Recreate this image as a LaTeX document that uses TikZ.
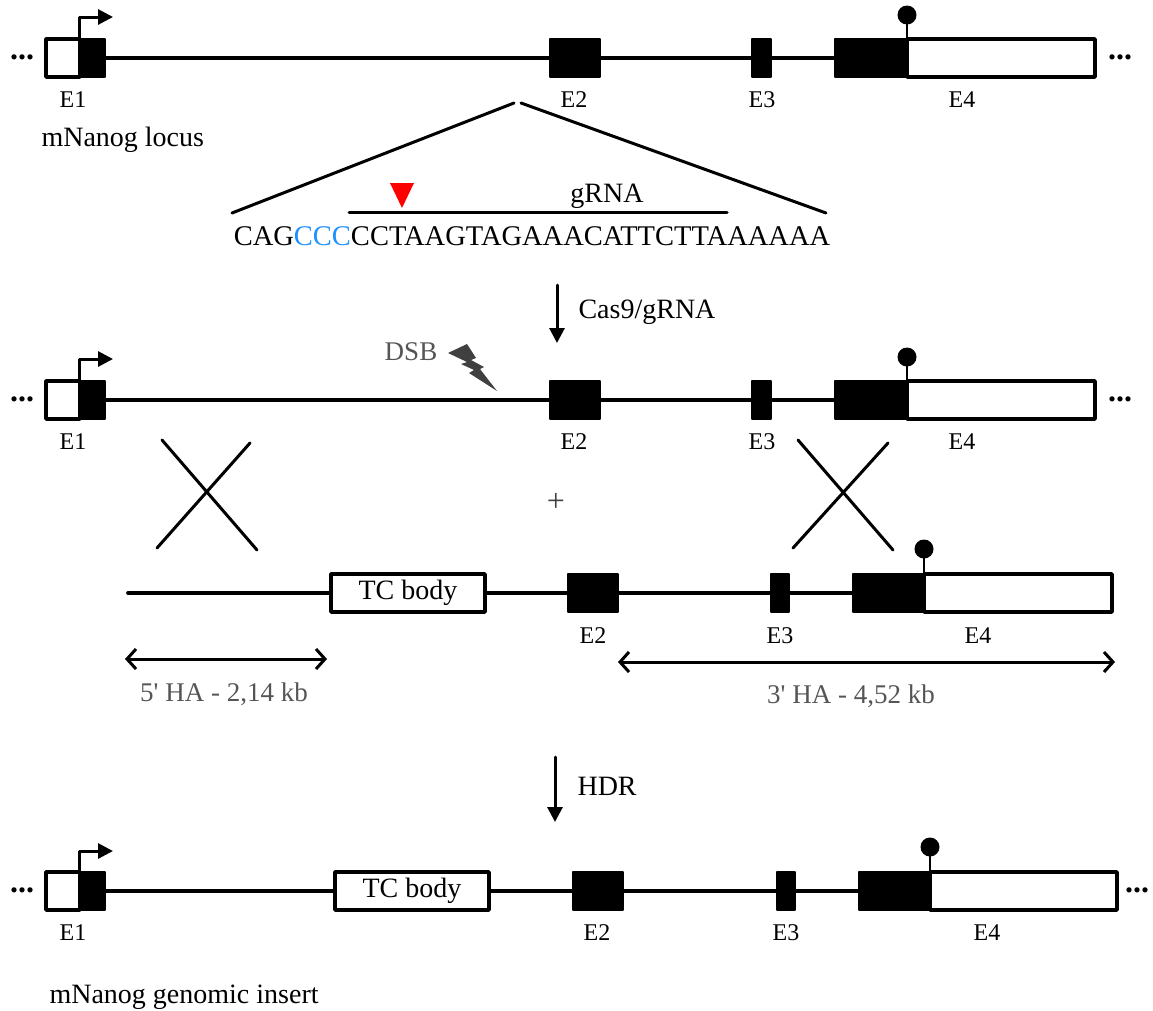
\documentclass[tikz,border=0pt]{standalone}
\usepackage{fontspec}
\setmainfont{Liberation Serif}
\usetikzlibrary{arrows.meta}
\definecolor{seqblue}{RGB}{30,144,255}
\definecolor{halabel}{RGB}{85,85,85}
\definecolor{boltgray}{RGB}{64,64,64}

\begin{document}
\begin{tikzpicture}[line cap=round,line join=round,x=1pt,y=-1pt,
    >={Triangle[length=15pt,width=15pt]},
    dna/.style={line width=3.8pt},
    bar/.style={line width=3pt},
    exon/.style={fill=black,draw=black,line width=2pt},
    utr/.style={fill=white,draw=black,line width=3.6pt},
    tcbox/.style={draw=black,fill=white,line width=3.6pt,minimum width=154pt,minimum height=38pt,inner sep=0pt,font=\fontsize{28}{30}\selectfont},
    exlabel/.style={font=\fontsize{24}{26}\selectfont},
    txt/.style={font=\fontsize{28}{30}\selectfont},
    dots/.style={font=\fontsize{32}{32}\selectfont\bfseries},
    graytxt/.style={font=\fontsize{27}{29}\selectfont,text=halabel},
    ha/.style={line width=3pt,{Straight Barb[length=9pt,width=20pt]}-{Straight Barb[length=9pt,width=20pt]}}]
  \useasboundingbox (0,0) rectangle (1153,1010);

  % wild-type locus, before and after the cut
  \foreach \y/\r in {58/a,400/b}{
    \draw[dna] (105,\y) -- (835,\y);
    \draw[utr] (46,\y-19) rectangle (80,\y+19);
    \draw[exon] (80,\y-19) rectangle (105,\y+19);
    \draw[exon] (550,\y-19) rectangle (600,\y+19);
    \draw[exon] (752,\y-19) rectangle (771,\y+19);
    \draw[utr] (907,\y-19) rectangle (1095,\y+19);
    \draw[exon] (835,\y-19) rectangle (907,\y+19);
    \draw[line width=2.6pt] (907,\y-19) -- (907,\y-43);
    \fill (907,\y-43) circle (9.5pt);
    \draw[bar,->] (79,\y-19) |- (113,\y-41);
    \node[dots] (dl\r) at (22,\y-1) {...};
    \node[dots] (dr\r) at (1120,\y-1) {...};
    \node[exlabel] (e1\r) at (73,\y+42) {E1};
    \node[exlabel] (e2\r) at (574,\y+42) {E2};
    \node[exlabel] (e3\r) at (762,\y+42) {E3};
    \node[exlabel] (e4\r) at (962,\y+42) {E4};
  }
  \node[txt,anchor=west] (locus) at (38,140) {mNanog locus};

  % target sequence
  \draw[bar] (514,103) -- (232,213);
  \draw[bar] (521,103) -- (826,213);
  \node[txt,font=\fontsize{28.5}{30}\selectfont] (seq) at (532,236) {CAG\textcolor{seqblue}{CCC}CCTAAGTAGAAACATTCTTAAAAAA};
  \draw[bar] (349,212) -- (727,212);
  \node[txt] (grna) at (607,196) {gRNA};
  \fill[red] (390,183) -- (414,183) -- (402,208) -- cycle;

  \coordinate (cas9a) at (557,285);
  \coordinate (cas9b) at (557,343);
  \draw[bar,->] (cas9a) -- (cas9b);
  \node[txt,anchor=west] (cas9) at (575,312) {Cas9/gRNA};

  \node[graytxt] (dsb) at (411,352) {DSB};
  \fill[boltgray] (448,353) -- (467,344) -- (476,358) -- (471,360) -- (484,367) -- (480,369)
    -- (497,391) -- (469,373) -- (474,370) -- (461,364) -- (467,362) -- cycle;

  % crossover
  \draw[bar] (162,440) -- (257,550);
  \draw[bar] (250,443) -- (157,548);
  \draw[bar] (798,440) -- (893,550);
  \draw[bar] (888,443) -- (793,548);
  \node[txt,font=\fontsize{32}{32}\selectfont,text=boltgray] (plus) at (556,502) {+};

  % donor
  \draw[dna] (128,593) -- (853,593);
  \node[tcbox] (tcd) at (408,593) {TC body};
  \draw[exon] (568,574) rectangle (618,612);
  \draw[exon] (771,574) rectangle (789,612);
  \draw[utr] (924,574) rectangle (1112,612);
  \draw[exon] (853,574) rectangle (924,612);
  \draw[line width=2.6pt] (924,574) -- (924,549);
  \fill (924,549) circle (9.5pt);
  \node[exlabel] (e2d) at (593,636) {E2};
  \node[exlabel] (e3d) at (780,636) {E3};
  \node[exlabel] (e4d) at (978,636) {E4};

  \coordinate (ha5a) at (125,659);
  \coordinate (ha5b) at (327,659);
  \coordinate (ha3a) at (618,662);
  \coordinate (ha3b) at (1115,662);
  \draw[ha] (ha5a) -- (ha5b);
  \draw[ha] (ha3a) -- (ha3b);
  \node[graytxt] (ha5) at (224,694) {5\textquotesingle{} HA - 2,14 kb};
  \node[graytxt] (ha3) at (851,696) {3\textquotesingle{} HA - 4,52 kb};

  \coordinate (hdra) at (555,757);
  \coordinate (hdrb) at (555,822);
  \draw[bar,->] (hdra) -- (hdrb);
  \node[txt,anchor=west] (hdr) at (574,786) {HDR};

  % edited allele
  \draw[dna] (105,891) -- (859,891);
  \draw[utr] (46,872) rectangle (80,910);
  \draw[exon] (80,872) rectangle (105,910);
  \node[tcbox] (tce) at (412,891) {TC body};
  \draw[exon] (573,872) rectangle (623,910);
  \draw[exon] (777,872) rectangle (795,910);
  \draw[utr] (930,872) rectangle (1117,910);
  \draw[exon] (859,872) rectangle (930,910);
  \draw[line width=2.6pt] (930,872) -- (930,847);
  \fill (930,847) circle (9.5pt);
  \draw[bar,->] (79,872) |- (113,851);
  \node[dots] (dlc) at (22,890) {...};
  \node[dots] (drc) at (1137,890) {...};
  \node[exlabel] (e1c) at (73,933) {E1};
  \node[exlabel] (e2c) at (597,933) {E2};
  \node[exlabel] (e3c) at (786,933) {E3};
  \node[exlabel] (e4c) at (987,933) {E4};
  \node[txt,anchor=west] (insert) at (46,997) {mNanog genomic insert};
\end{tikzpicture}
\end{document}
